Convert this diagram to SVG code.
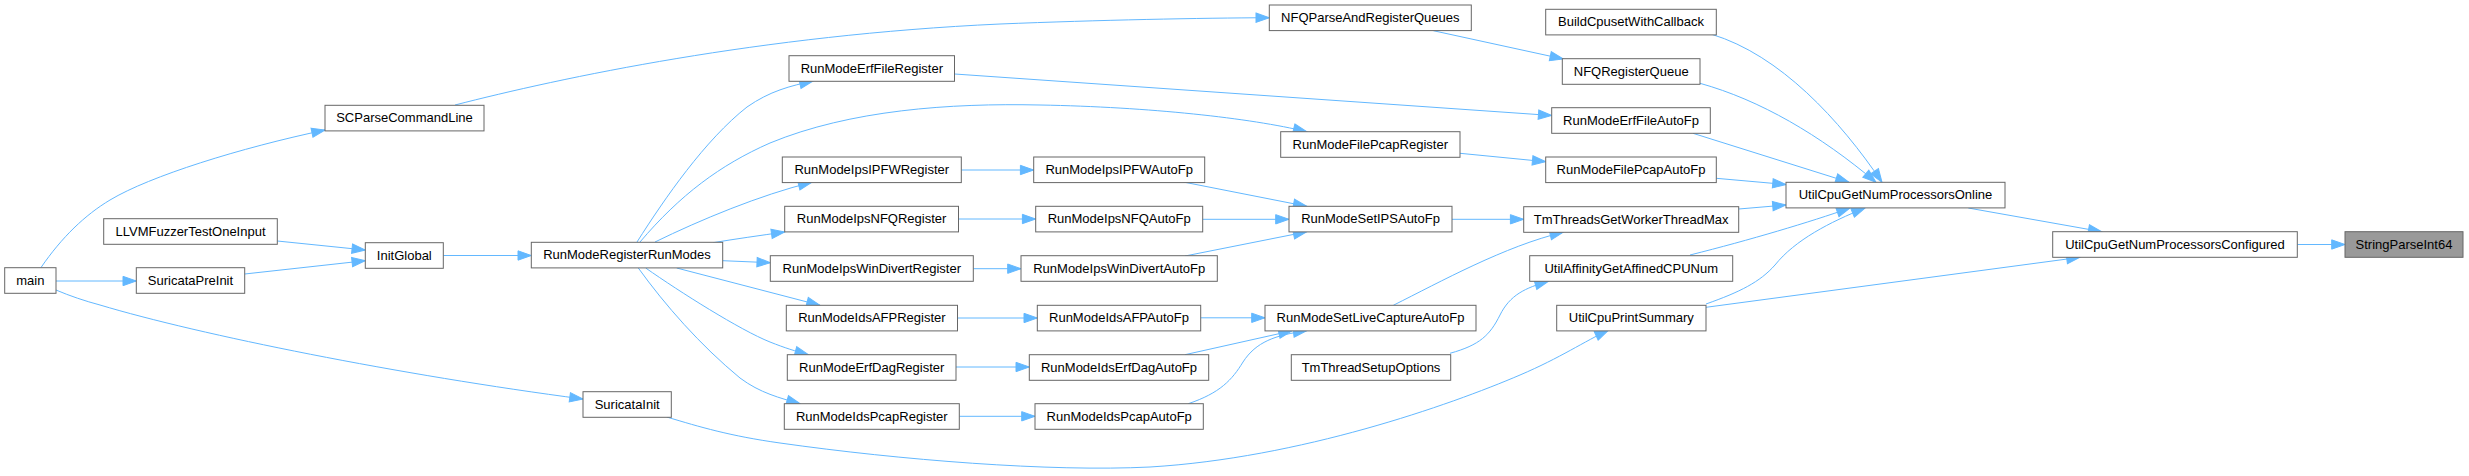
<svg xmlns="http://www.w3.org/2000/svg" width="2469" height="476" viewBox="0 0 2469 476">
<style>
.node rect{fill:#ffffff;stroke:#666666;stroke-width:1}
.node.hl rect{fill:#999999}
.node text{font-family:"Liberation Sans",Arial,Helvetica,sans-serif;font-size:13px;fill:#000000;text-anchor:middle}
.edges path{fill:none;stroke:#63b8ff;stroke-width:1;marker-end:url(#arr)}
</style>
<defs>
<marker id="arr" markerUnits="userSpaceOnUse" markerWidth="16" markerHeight="12" refX="13.3" refY="4.67" orient="auto" overflow="visible">
<path d="M0,0 L13.3,4.67 L0,9.33 Z" fill="#63b8ff" stroke="#63b8ff" stroke-width="1"/>
</marker>
</defs>
<rect x="0" y="0" width="2469" height="476" fill="#ffffff"/>
<g class="edges" id="edges">
<path d="M41,267.5 C62,237 85,215 110,200 C150,176 240,148 325,130"/>
<path d="M56,281 L136.3,281"/>
<path d="M56,290 C70,296 85,301 100,305 C200,335 400,375 583,399"/>
<path d="M277.3,241 L365.3,250"/>
<path d="M244.7,274 L365.3,260.7"/>
<path d="M443.3,255.5 L531.3,255.5"/>
<path d="M455,105 C560,78 760,35 1000,24 C1100,20 1200,18 1269.3,17.7"/>
<path d="M637,242 C665,198 705,140 747,107 C770,91 790,86 813,81"/>
<path d="M640,242 C680,195 720,165 770,143 C850,110 950,103 1040,105 C1150,107 1250,118 1306.7,131.7"/>
<path d="M655,242 C700,220 760,195 811.7,182.3"/>
<path d="M713,242.7 C735,239 760,235.5 784.7,232"/>
<path d="M722.7,260.7 L770.3,262.7"/>
<path d="M676.7,268 L820,305.3"/>
<path d="M645.7,268 C680,292 740,330 770,342 C785,348 795,351 808.3,354.7"/>
<path d="M638.3,268 C665,305 700,345 740,378 C760,393 780,398 800,403.7"/>
<path d="M666.7,417 C700,427 730,436 780,443 C900,460 1050,472 1150,467 C1300,458 1450,405 1520,375 C1560,358 1585,341 1608.3,330.3"/>
<path d="M954.7,74 L1551.7,115.5"/>
<path d="M1460,153.3 L1545.7,161.7"/>
<path d="M961.3,170 L1033.7,170"/>
<path d="M958.5,219 L1035.7,219"/>
<path d="M973.3,268.7 L1021,268.7"/>
<path d="M957.5,318 L1037.3,318"/>
<path d="M956,367 L1029.3,367"/>
<path d="M959.3,416.3 L1035,416.3"/>
<path d="M1183.3,182 L1306.7,206.3"/>
<path d="M1202.7,219.3 L1289,219.3"/>
<path d="M1185,256 L1306.7,231.8"/>
<path d="M1200.7,317.8 L1265,317.8"/>
<path d="M1185,354.7 L1292,330.8"/>
<path d="M1188.3,403.7 C1220,393 1232,380 1243,362 C1256,342 1275,335 1306.7,330.8"/>
<path d="M1393.3,305.3 C1440,282 1505,246 1563.3,232.2"/>
<path d="M1452,219.3 L1523.7,219.3"/>
<path d="M1450,353.3 C1480,345 1490,335 1500,315 C1510,295 1525,288 1548.3,281.3"/>
<path d="M1433.3,30.7 L1563.3,59"/>
<path d="M1711.7,34.3 C1780,55 1840,120 1882,182.3"/>
<path d="M1700,83.3 C1760,100 1820,135 1876,182.3"/>
<path d="M1693,133.3 L1849,182.3"/>
<path d="M1716.3,178.3 L1786,184.5"/>
<path d="M1738.7,209 L1786,205"/>
<path d="M1690,255 C1750,240 1810,222 1850,208"/>
<path d="M1706,304 C1740,292 1760,282 1775,265 C1795,240 1830,222 1865,208"/>
<path d="M1706,307.3 L2080,257.3"/>
<path d="M1968.3,208 L2101.7,231.7"/>
<path d="M2297.3,244.5 L2345,244.5"/>
</g>
<g class="node" id="n_main"><rect x="4.7" y="267.7" width="51.3" height="25.6"/><text x="30.3" y="284.7">main</text></g>
<g class="node" id="n_SCParseCommandLine"><rect x="325" y="105.3" width="159" height="25.6"/><text x="404.5" y="122.3">SCParseCommandLine</text></g>
<g class="node" id="n_LLVMFuzzerTestOneInput"><rect x="103.7" y="218.7" width="173.6" height="25.6"/><text x="190.5" y="235.7">LLVMFuzzerTestOneInput</text></g>
<g class="node" id="n_InitGlobal"><rect x="365.3" y="242.7" width="78" height="25.6"/><text x="404.3" y="259.7">InitGlobal</text></g>
<g class="node" id="n_SuricataPreInit"><rect x="136.3" y="267.7" width="108.4" height="25.6"/><text x="190.5" y="284.7">SuricataPreInit</text></g>
<g class="node" id="n_RunModeRegisterRunModes"><rect x="531.3" y="242.3" width="191.4" height="25.6"/><text x="627" y="259.3">RunModeRegisterRunModes</text></g>
<g class="node" id="n_SuricataInit"><rect x="583" y="391.7" width="88.3" height="25.6"/><text x="627.2" y="408.7">SuricataInit</text></g>
<g class="node" id="n_RunModeErfFileRegister"><rect x="789" y="55.7" width="165.5" height="25.6"/><text x="871.8" y="72.7">RunModeErfFileRegister</text></g>
<g class="node" id="n_RunModeIpsIPFWRegister"><rect x="782.3" y="157" width="179" height="25.6"/><text x="871.8" y="174">RunModeIpsIPFWRegister</text></g>
<g class="node" id="n_RunModeIpsNFQRegister"><rect x="784.7" y="206.3" width="173.8" height="25.6"/><text x="871.6" y="223.3">RunModeIpsNFQRegister</text></g>
<g class="node" id="n_RunModeIpsWinDivertRegister"><rect x="770.3" y="255.7" width="203" height="25.6"/><text x="871.8" y="272.7">RunModeIpsWinDivertRegister</text></g>
<g class="node" id="n_RunModeIdsAFPRegister"><rect x="786.3" y="305.3" width="171.2" height="25.6"/><text x="871.9" y="322.3">RunModeIdsAFPRegister</text></g>
<g class="node" id="n_RunModeErfDagRegister"><rect x="787.3" y="354.7" width="168.7" height="25.6"/><text x="871.7" y="371.7">RunModeErfDagRegister</text></g>
<g class="node" id="n_RunModeIdsPcapRegister"><rect x="784.3" y="403.7" width="175" height="25.6"/><text x="871.8" y="420.7">RunModeIdsPcapRegister</text></g>
<g class="node" id="n_RunModeIpsIPFWAutoFp"><rect x="1033.7" y="157" width="171" height="25.6"/><text x="1119.2" y="174">RunModeIpsIPFWAutoFp</text></g>
<g class="node" id="n_RunModeIpsNFQAutoFp"><rect x="1035.7" y="206.3" width="167" height="25.6"/><text x="1119.2" y="223.3">RunModeIpsNFQAutoFp</text></g>
<g class="node" id="n_RunModeIpsWinDivertAutoFp"><rect x="1021" y="255.7" width="196.3" height="25.6"/><text x="1119.2" y="272.7">RunModeIpsWinDivertAutoFp</text></g>
<g class="node" id="n_RunModeIdsAFPAutoFp"><rect x="1037.3" y="305.3" width="163.4" height="25.6"/><text x="1119" y="322.3">RunModeIdsAFPAutoFp</text></g>
<g class="node" id="n_RunModeIdsErfDagAutoFp"><rect x="1029.3" y="354.7" width="179.4" height="25.6"/><text x="1119" y="371.7">RunModeIdsErfDagAutoFp</text></g>
<g class="node" id="n_RunModeIdsPcapAutoFp"><rect x="1035" y="403.7" width="168.3" height="25.6"/><text x="1119.2" y="420.7">RunModeIdsPcapAutoFp</text></g>
<g class="node" id="n_NFQParseAndRegisterQueues"><rect x="1269.3" y="5" width="202" height="25.6"/><text x="1370.3" y="22">NFQParseAndRegisterQueues</text></g>
<g class="node" id="n_RunModeFilePcapRegister"><rect x="1280.7" y="131.7" width="179.3" height="25.6"/><text x="1370.3" y="148.7">RunModeFilePcapRegister</text></g>
<g class="node" id="n_RunModeSetIPSAutoFp"><rect x="1289" y="206.3" width="163" height="25.6"/><text x="1370.5" y="223.3">RunModeSetIPSAutoFp</text></g>
<g class="node" id="n_RunModeSetLiveCaptureAutoFp"><rect x="1265" y="305.3" width="211" height="25.6"/><text x="1370.5" y="322.3">RunModeSetLiveCaptureAutoFp</text></g>
<g class="node" id="n_TmThreadSetupOptions"><rect x="1291.3" y="354.7" width="159.4" height="25.6"/><text x="1371" y="371.7">TmThreadSetupOptions</text></g>
<g class="node" id="n_BuildCpusetWithCallback"><rect x="1545.7" y="9.3" width="170.6" height="25.6"/><text x="1631" y="26.3">BuildCpusetWithCallback</text></g>
<g class="node" id="n_NFQRegisterQueue"><rect x="1562.3" y="58.7" width="137.7" height="25.6"/><text x="1631.2" y="75.7">NFQRegisterQueue</text></g>
<g class="node" id="n_RunModeErfFileAutoFp"><rect x="1551.7" y="107.7" width="158.6" height="25.6"/><text x="1631" y="124.7">RunModeErfFileAutoFp</text></g>
<g class="node" id="n_RunModeFilePcapAutoFp"><rect x="1545.7" y="157" width="170.6" height="25.6"/><text x="1631" y="174">RunModeFilePcapAutoFp</text></g>
<g class="node" id="n_TmThreadsGetWorkerThreadMax"><rect x="1523.7" y="206.7" width="215" height="25.6"/><text x="1631.2" y="223.7">TmThreadsGetWorkerThreadMax</text></g>
<g class="node" id="n_UtilAffinityGetAffinedCPUNum"><rect x="1529.7" y="255.7" width="203" height="25.6"/><text x="1631.2" y="272.7">UtilAffinityGetAffinedCPUNum</text></g>
<g class="node" id="n_UtilCpuPrintSummary"><rect x="1556.7" y="305.3" width="149.3" height="25.6"/><text x="1631.3" y="322.3">UtilCpuPrintSummary</text></g>
<g class="node" id="n_UtilCpuGetNumProcessorsOnline"><rect x="1786" y="182.3" width="219" height="25.6"/><text x="1895.5" y="199.3">UtilCpuGetNumProcessorsOnline</text></g>
<g class="node" id="n_UtilCpuGetNumProcessorsConfigured"><rect x="2052.7" y="231.7" width="244.6" height="25.6"/><text x="2175" y="248.7">UtilCpuGetNumProcessorsConfigured</text></g>
<g class="node hl" id="n_StringParseInt64"><rect x="2345" y="231.7" width="118" height="25.6"/><text x="2404" y="248.7">StringParseInt64</text></g>
</svg>
